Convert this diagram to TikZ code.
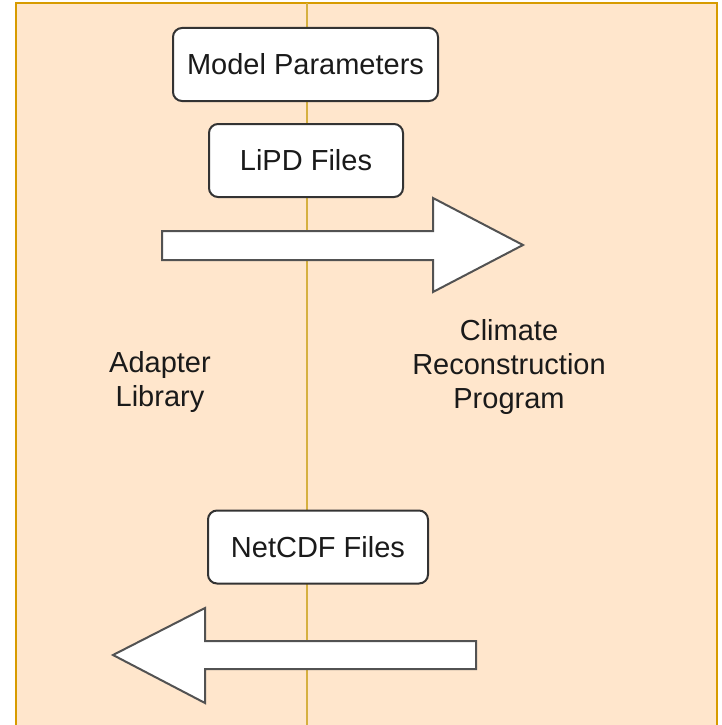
\documentclass[tikz,border=0pt]{standalone}
\usepackage{fontspec}
\setmainfont{Liberation Sans}
\definecolor{bgpeach}{HTML}{FFE6CC}
\definecolor{bgborder}{HTML}{D79B00}
\definecolor{divline}{HTML}{D6B040}
\definecolor{boxline}{HTML}{333333}
\definecolor{txt}{HTML}{1A1A1A}
\tikzset{
  labelbox/.style={draw=boxline, line width=2pt, fill=white, rounded corners=9pt,
    inner sep=0pt, font=\fontsize{29}{34}\selectfont, text=txt},
  bigarrow/.style={draw=boxline!85, line width=2pt, fill=white, line join=miter},
  freetext/.style={font=\fontsize{29}{34}\selectfont, text=txt, align=center}
}
\begin{document}
\begin{tikzpicture}[x=1pt,y=-1pt]
\useasboundingbox (0,0) rectangle (722,725);
% lane background
\fill[bgpeach] (16,3) rectangle (717,725);
\draw[bgborder, line width=2.5pt] (16,726) -- (16,3) -- (717,3) -- (717,726);
% divider
\coordinate (dtop) at (307,3);
\coordinate (dbot) at (307,725);
\draw[divline, line width=1.6pt] (dtop) -- (dbot);
% boxes
\node[labelbox, minimum width=265pt, minimum height=73pt] (mp) at (305.5,64.5) {Model Parameters};
\node[labelbox, minimum width=194pt, minimum height=73pt] (lipd) at (306,160.5) {LiPD Files};
\node[labelbox, minimum width=220pt, minimum height=73pt] (ncdf) at (318,547) {NetCDF Files};
% arrows
\draw[bigarrow] (162,231) -- (433,231) -- (433,198) -- (523,245) -- (433,292) -- (433,260) -- (162,260) -- cycle;
\draw[bigarrow] (476,641) -- (205,641) -- (205,608) -- (113,655) -- (205,703) -- (205,669) -- (476,669) -- cycle;
% lane labels
\node[freetext] (adapter) at (160,382) {Adapter\\Library};
\node[freetext] (climate) at (509,367) {Climate\\Reconstruction\\Program};
\end{tikzpicture}
\end{document}
